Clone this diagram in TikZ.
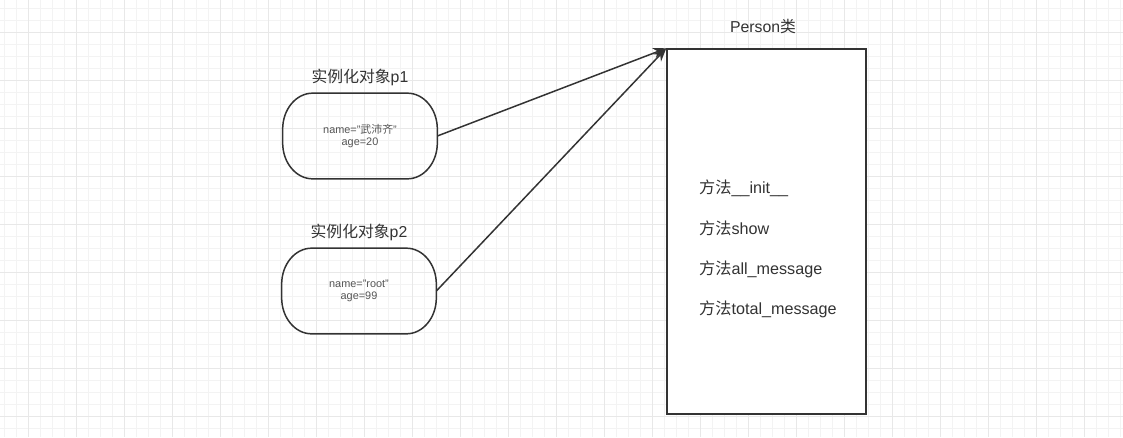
\documentclass[tikz,border=0pt]{standalone}
\usepackage{fontspec}
\setmainfont{Liberation Sans}
\newfontfamily\cjk{Noto Sans CJK SC}
\usetikzlibrary{positioning,arrows.meta}
\definecolor{inkgray}{HTML}{333333}
\definecolor{softgray}{HTML}{555555}
\definecolor{gridmajor}{HTML}{E8E8E8}
\definecolor{gridminor}{HTML}{F3F3F3}
\tikzset{
  objbox/.style={minimum width=3.08cm,minimum height=1.7cm,align=center,
    font=\fontsize{6.2}{7}\selectfont,text=softgray},
  objline/.style={draw=inkgray,line width=0.85pt},
  classbox/.style={draw=inkgray,line width=0.85pt,fill=white,
    minimum width=3.98cm,minimum height=7.3cm},
  title/.style={font=\fontsize{9}{11}\selectfont,text=inkgray},
  method/.style={anchor=west,font=\fontsize{9.2}{10}\selectfont,text=inkgray},
  link/.style={->,draw=inkgray,line width=0.85pt},
}
\begin{document}
\begin{tikzpicture}[>={Stealth[length=7.5pt,width=6pt]},x=0.02cm,y=-0.02cm]
            \useasboundingbox (0,0) rectangle (1123,437);
            \fill[white] (0,0) rectangle (1123,437);
            % grid
            \foreach \x in {4,16,...,1123}
                \draw[gridminor,line width=0.4pt] (\x,0) -- (\x,437);
            \foreach \y in {8,20,...,437}
                \draw[gridminor,line width=0.4pt] (0,\y) -- (1123,\y);
            \foreach \x in {28,76,...,1123}
                \draw[gridmajor,line width=0.5pt] (\x,0) -- (\x,437);
            \foreach \y in {32,80,...,437}
                \draw[gridmajor,line width=0.5pt] (0,\y) -- (1123,\y);
            % objects
            \node[objbox] (p1) at (360,136) {name="{\cjk 武沛齐}"\\age=20};
            \node[objbox] (p2) at (359,291) {name="root"\\age=99};
            \foreach \n in {p1,p2}
                \draw[objline] ([xshift=0.6cm]\n.north west) -- ([xshift=-0.6cm]\n.north east)
                    arc[start angle=90,end angle=0,x radius=0.6cm,y radius=0.72cm]
                    -- ([yshift=0.72cm]\n.south east)
                    arc[start angle=0,end angle=-90,x radius=0.6cm,y radius=0.72cm]
                    -- ([xshift=0.6cm]\n.south west)
                    arc[start angle=270,end angle=180,x radius=0.6cm,y radius=0.72cm]
                    -- ([yshift=-0.72cm]\n.north west)
                    arc[start angle=180,end angle=90,x radius=0.6cm,y radius=0.72cm] -- cycle;
            \node[title] (p1title) at (360,77) {{\cjk 实例化对象}p1};
            \node[title] (p2title) at (359,232) {{\cjk 实例化对象}p2};
            % class
            \node[classbox] (person) at (766.5,231.5) {};
            \node[title] (persontitle) at (763,26) {Person{\cjk 类}};
            \foreach \m/\yy in {\_\_init\_\_/188,show/228,all\_message/269,total\_message/309}
                \node[method] at (693,\yy) {{\cjk 方法}\m};
            % arrows
            \draw[link] (p1.east) -- (person.north west);
            \draw[link] (p2.east) -- (person.north west);
        \end{tikzpicture}
\end{document}
